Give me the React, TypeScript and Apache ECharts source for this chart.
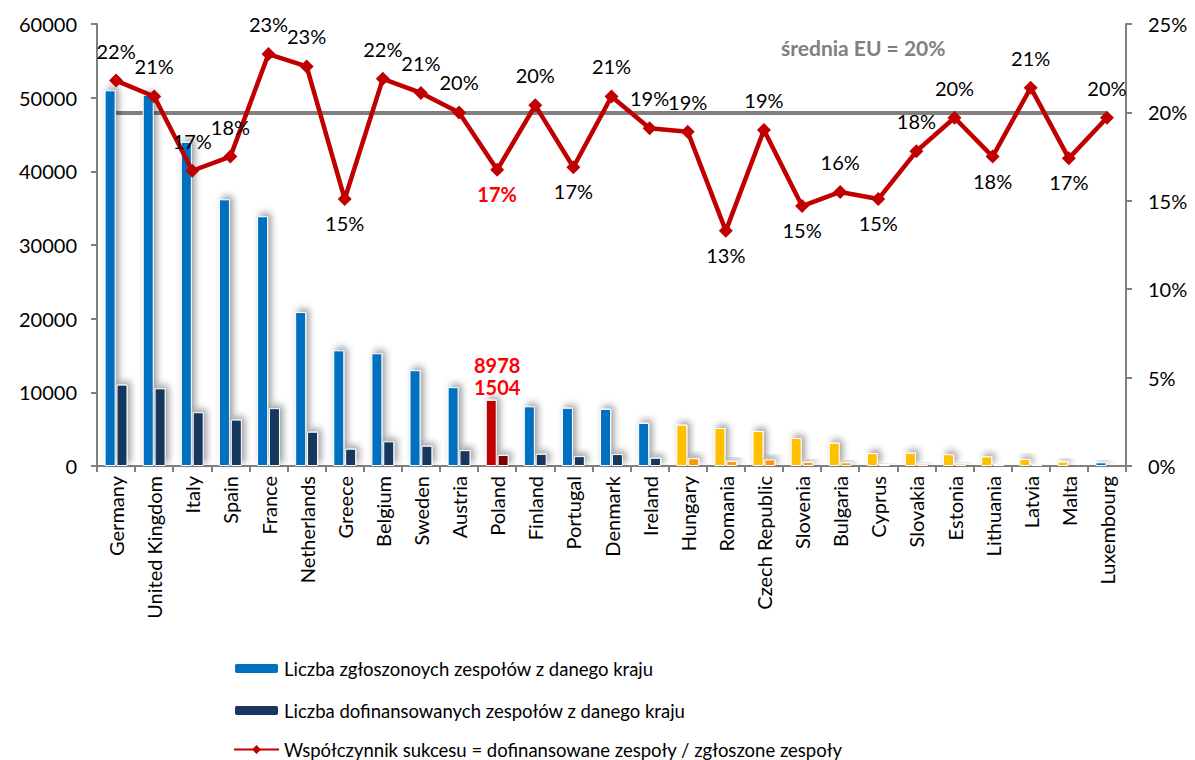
import React, { useEffect, useRef } from "react";
import * as echarts from "echarts";

const countries = [
  "Germany", "United Kingdom", "Italy", "Spain", "France", "Netherlands", "Greece", "Belgium", "Sweden",
  "Austria", "Poland", "Finland", "Portugal", "Denmark", "Ireland", "Hungary", "Romania", "Czech Republic",
  "Slovenia", "Bulgaria", "Cyprus", "Slovakia", "Estonia", "Lithuania", "Latvia", "Malta", "Luxembourg",
];
const submitted = [
  51000, 50400, 44000, 36200, 33900, 20900, 15700, 15300, 13000, 10700, 8978, 8100, 7900, 7750, 5850,
  5600, 5150, 4750, 3800, 3150, 1750, 1800, 1600, 1300, 950, 600, 500,
];
const funded = [
  11050, 10550, 7300, 6300, 7850, 4650, 2350, 3350, 2750, 2150, 1504, 1650, 1340, 1620, 1120,
  1060, 690, 900, 560, 490, 265, 320, 320, 230, 200, 105, 100,
];
const successRate = [
  21.8, 20.9, 16.7, 17.5, 23.3, 22.6, 15.1, 21.9, 21.1, 20.0, 16.75, 20.4, 16.9, 20.9, 19.1, 18.9, 13.3,
  19.0, 14.7, 15.5, 15.1, 17.8, 19.7, 17.5, 21.4, 17.4, 19.7,
];
const euAverage = 20;
const newMembers = [
  "Hungary", "Romania", "Czech Republic", "Slovenia", "Bulgaria", "Cyprus", "Slovakia", "Estonia",
  "Lithuania", "Latvia", "Malta",
];
const highlighted = "Poland";
const labelsBelow = ["Greece", "Poland", "Portugal", "Romania", "Slovenia", "Cyprus", "Lithuania", "Malta"];
const leftTicks = { min: 0, max: 60000, interval: 10000 };
const rightTicks = { min: 0, max: 25, interval: 5 };
const seriesNames = [
  "Liczba zgłoszonoych zespołów z danego kraju",
  "Liczba dofinansowanych zespołów z danego kraju",
  "Współczynnik sukcesu = dofinansowane zespoły / zgłoszone zespoły",
];

const FONT = "Lato";
const C_BLUE = "#0070C0";
const C_NAVY = "#17375E";
const C_RED = "#C00000";
const C_DARKRED = "#7F0000";
const C_YELLOW = "#FFC000";
const C_ORANGE = "#FF9900";
const C_GRAY = "#808080";

export default function App() {
  const ref = useRef<HTMLDivElement>(null);
  useEffect(() => {
    document.body.style.margin = "0";
    const chart = echarts.init(ref.current!, undefined, { renderer: "svg" });
    const shadow = {
      borderColor: "#ffffff",
      borderWidth: 1,
      shadowBlur: 7,
      shadowColor: "rgba(0,0,0,0.4)",
      shadowOffsetX: 3,
      shadowOffsetY: -3,
    };
    const subData = submitted.map((v, i) => {
      const c = countries[i];
      if (c === highlighted) {
        return {
          value: v,
          itemStyle: { color: C_RED },
          label: {
            show: true,
            position: "top",
            distance: 2,
            offset: [6, 0],
            formatter: `${v}\n${funded[i]}`,
            color: "#FF0000",
            fontWeight: "bold",
            fontSize: 20,
            lineHeight: 22,
            fontFamily: FONT,
          },
        };
      }
      if (newMembers.includes(c)) return { value: v, itemStyle: { color: C_YELLOW } };
      return v;
    });
    const fundData = funded.map((v, i) => {
      const c = countries[i];
      if (c === highlighted) return { value: v, itemStyle: { color: C_DARKRED } };
      if (newMembers.includes(c)) return { value: v, itemStyle: { color: C_ORANGE } };
      return v;
    });
    const rateData = successRate.map((v, i) => {
      const c = countries[i];
      const below = labelsBelow.includes(c);
      const label: any = { position: below ? "bottom" : "top", distance: below ? 7 : 13 };
      if (c === highlighted) {
        label.color = "#FF0000";
        label.fontWeight = "bold";
      }
      return { value: v, label };
    });
    const legendTops = [654, 696, 735];
    chart.setOption({
      animation: false,
      grid: { left: 97, right: 69, top: 24, bottom: 294, containLabel: false },
      legend: seriesNames.map((n, i) => ({
        left: 228,
        top: legendTops[i],
        itemWidth: 45,
        itemHeight: 11,
        textStyle: { fontFamily: FONT, fontSize: 18.5, color: "#000" },
        data: [n],
      })),
      xAxis: {
        type: "category",
        data: countries,
        boundaryGap: true,
        axisLine: { lineStyle: { color: C_GRAY, width: 2 } },
        axisTick: { show: true, length: 6, lineStyle: { color: C_GRAY, width: 2 } },
        axisLabel: { rotate: 90, interval: 0, fontFamily: FONT, fontSize: 20, color: "#000", margin: 10 },
      },
      yAxis: [
        {
          type: "value",
          ...leftTicks,
          position: "left",
          axisLine: { show: true, lineStyle: { color: C_GRAY, width: 2 } },
          axisTick: { show: true, length: 6, lineStyle: { color: C_GRAY, width: 2 } },
          splitLine: { show: false },
          axisLabel: {
            fontFamily: FONT,
            fontSize: 20,
            color: "#000",
            margin: 20,
            formatter: (v: number) => String(v),
          },
        },
        {
          type: "value",
          ...rightTicks,
          position: "right",
          axisLine: { show: true, lineStyle: { color: C_GRAY, width: 2 } },
          axisTick: { show: true, length: 6, lineStyle: { color: C_GRAY, width: 2 } },
          splitLine: { show: false },
          axisLabel: { fontFamily: FONT, fontSize: 20, color: "#000", margin: 22, formatter: "{value}%" },
        },
      ],
      series: [
        {
          name: seriesNames[0],
          type: "bar",
          yAxisIndex: 0,
          barWidth: 11,
          barGap: "8%",
          data: subData,
          itemStyle: { color: C_BLUE, ...shadow },
        },
        {
          name: seriesNames[1],
          type: "bar",
          yAxisIndex: 0,
          barWidth: 11,
          barGap: "8%",
          data: fundData,
          itemStyle: { color: C_NAVY, ...shadow },
        },
        {
          name: seriesNames[2],
          type: "line",
          yAxisIndex: 1,
          z: 5,
          data: rateData,
          symbol: "diamond",
          symbolSize: 14,
          lineStyle: { color: C_RED, width: 4.5 },
          itemStyle: { color: C_RED },
          label: {
            show: true,
            formatter: (p: any) => `${Math.round(p.value)}%`,
            fontFamily: FONT,
            fontSize: 20,
            color: "#000",
          },
          markLine: {
            silent: true,
            symbol: "none",
            z: 1,
            lineStyle: { color: C_GRAY, width: 4, type: "solid" },
            label: { show: false },
            data: [[{ coord: [countries[0], euAverage] }, { coord: [countries[countries.length - 1], euAverage] }]],
          },
        },
      ],
      graphic: [
        {
          type: "text",
          left: 781,
          top: 37,
          style: {
            text: `średnia EU = ${euAverage}%`,
            fontFamily: FONT,
            fontSize: 21,
            fontWeight: "bold",
            fill: C_GRAY,
          },
        },
      ],
    });
    return () => chart.dispose();
  }, []);
  return <div ref={ref} style={{ width: 1195, height: 760 }} />;
}
